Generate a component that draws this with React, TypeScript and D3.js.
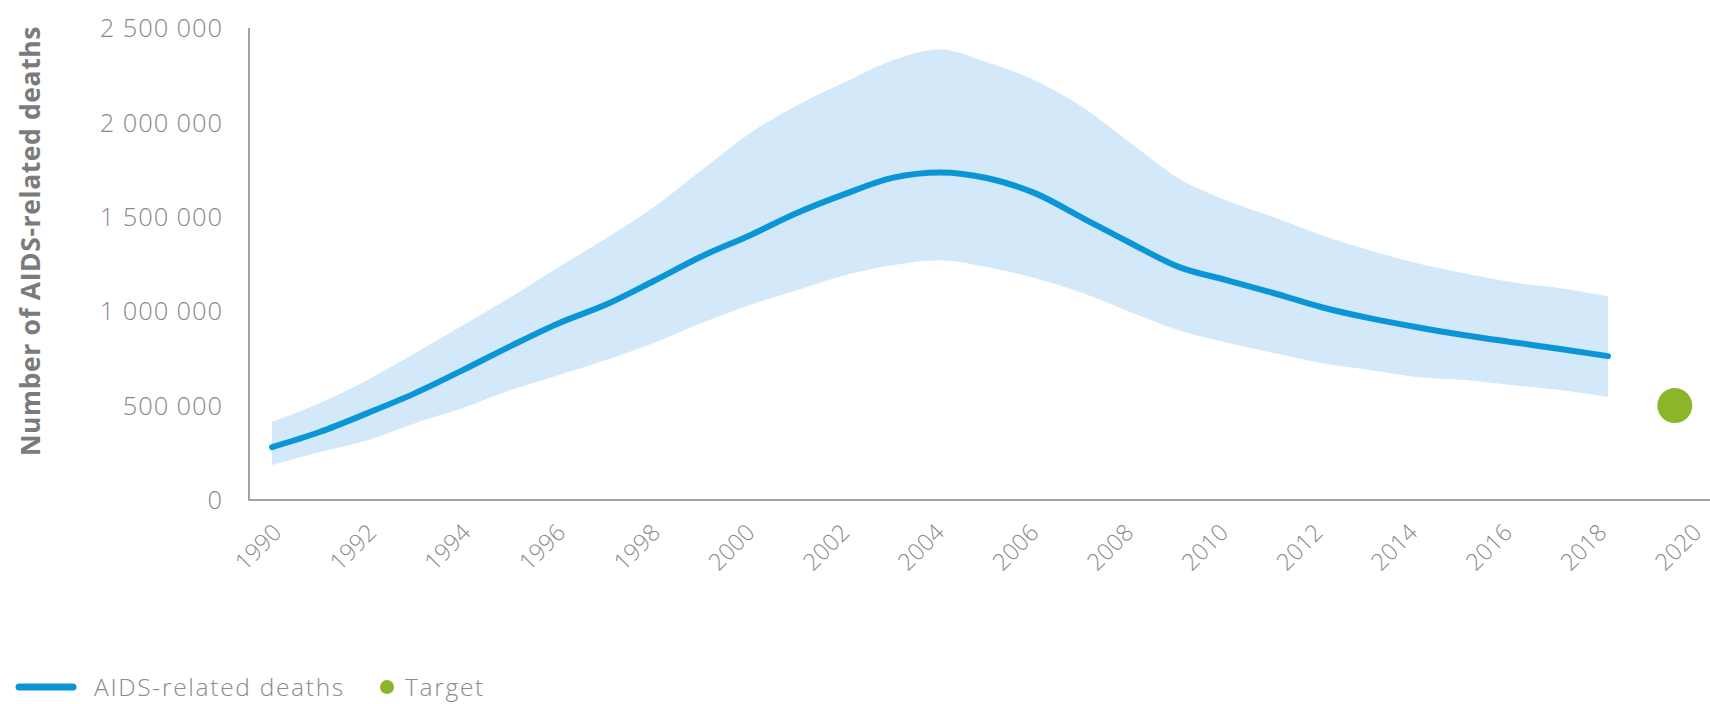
import React, { useRef, useEffect } from 'react';
import * as d3 from 'd3';

// ── Data ──────────────────────────────────────────────────────────────────────
const YEARS = [
  1990, 1991, 1992, 1993, 1994, 1995, 1996, 1997, 1998, 1999,
  2000, 2001, 2002, 2003, 2004, 2005, 2006, 2007, 2008, 2009,
  2010, 2011, 2012, 2013, 2014, 2015, 2016, 2017, 2018,
];

const DEATHS = [
  280000, 360000, 460000, 566000, 688000, 815000, 935000, 1035000, 1160000, 1290000,
  1400000, 1520000, 1620000, 1706000, 1735000, 1704000, 1624000, 1492000, 1360000, 1235000,
  1165000, 1095000, 1021000, 963000, 915000, 873000, 836000, 800000, 762000,
];

const DEATHS_UPPER = [
  415000, 513000, 635000, 778000, 926000, 1074000, 1233000, 1386000, 1550000, 1746000,
  1940000, 2090000, 2212000, 2328000, 2386000, 2317000, 2222000, 2079000, 1889000, 1704000,
  1587000, 1497000, 1402000, 1323000, 1254000, 1201000, 1153000, 1122000, 1079000,
];

const DEATHS_LOWER = [
  185000, 254000, 317000, 407000, 487000, 582000, 661000, 741000, 831000, 937000,
  1032000, 1111000, 1190000, 1243000, 1270000, 1233000, 1175000, 1095000, 995000, 899000,
  834000, 778000, 725000, 688000, 651000, 635000, 608000, 582000, 545000,
];

const TARGET_YEAR = 2019.4;
const TARGET_VALUE = 500000;

const X_TICKS = [1990, 1992, 1994, 1996, 1998, 2000, 2002, 2004, 2006, 2008, 2010, 2012, 2014, 2016, 2018, 2020];
const Y_TICKS = [0, 500000, 1000000, 1500000, 2000000, 2500000];

const Y_TITLE = 'Number of AIDS-related deaths';
const LEGEND_LINE = 'AIDS-related deaths';
const LEGEND_TARGET = 'Target';

// ── Styling ───────────────────────────────────────────────────────────────────
const W = 1710;
const H = 704;
const LINE_COLOR = '#0a96d6';
const BAND_COLOR = '#d3e9f9';
const TARGET_COLOR = '#8cb62a';
const AXIS_COLOR = '#a3a3a3';
const TEXT_COLOR = '#8a8a8a';
const FONT = '"Open Sans", Lato, sans-serif';

const fmt = d3.formatLocale({ decimal: '.', thousands: ' ', grouping: [3], currency: ['', ''] }).format(',d');

export default function App() {
  const svgRef = useRef<SVGSVGElement>(null);

  useEffect(() => {
    if (!svgRef.current) return;
    const svg = d3.select(svgRef.current);
    svg.selectAll('*').remove();

    // ── Scales ──────────────────────────────────────────────────────────────
    const x = d3.scaleLinear().domain([1990, 2018]).range([272, 1608]);
    // tick labels sit on a slightly tighter grid than the data in the original
    const xLabel = d3.scaleLinear().domain([1990, 2020]).range([283, 1703]);
    const y = d3.scaleLinear().domain([0, 2500000]).range([500, 28]);

    const rows = YEARS.map((yr, i) => ({ yr, v: DEATHS[i], hi: DEATHS_UPPER[i], lo: DEATHS_LOWER[i] }));

    // ── Uncertainty band ────────────────────────────────────────────────────
    const area = d3.area<typeof rows[number]>()
      .x(d => x(d.yr)).y0(d => y(d.lo)).y1(d => y(d.hi))
      .curve(d3.curveMonotoneX);
    svg.append('path').attr('d', area(rows)!).attr('fill', BAND_COLOR);

    // ── Main line ───────────────────────────────────────────────────────────
    const line = d3.line<typeof rows[number]>()
      .x(d => x(d.yr)).y(d => y(d.v))
      .curve(d3.curveMonotoneX);
    svg.append('path').attr('d', line(rows)!)
      .attr('fill', 'none').attr('stroke', LINE_COLOR).attr('stroke-width', 6)
      .attr('stroke-linecap', 'round').attr('stroke-linejoin', 'round');

    // ── Target ──────────────────────────────────────────────────────────────
    svg.append('circle')
      .attr('cx', x(TARGET_YEAR)).attr('cy', y(TARGET_VALUE)).attr('r', 17.5)
      .attr('fill', TARGET_COLOR);

    // ── Axes ────────────────────────────────────────────────────────────────
    svg.append('line')
      .attr('x1', 249).attr('x2', 249).attr('y1', y(2500000)).attr('y2', y(0))
      .attr('stroke', AXIS_COLOR).attr('stroke-width', 2);
    svg.append('line')
      .attr('x1', 248).attr('x2', W).attr('y1', y(0)).attr('y2', y(0))
      .attr('stroke', AXIS_COLOR).attr('stroke-width', 2);

    const yAxis = svg.append('g');
    Y_TICKS.forEach(t => {
      yAxis.append('text')
        .attr('x', 223).attr('y', y(t)).attr('dy', '0.36em')
        .attr('text-anchor', 'end').attr('fill', TEXT_COLOR)
        .attr('font-family', FONT).attr('font-weight', 300).attr('font-size', 25.5)
        .attr('letter-spacing', 0.9)
        .text(fmt(t));
    });

    const xAxis = svg.append('g');
    X_TICKS.forEach(t => {
      xAxis.append('text')
        .attr('transform', `translate(${xLabel(t)},${y(0) + 34}) rotate(-45)`)
        .attr('text-anchor', 'end').attr('fill', TEXT_COLOR)
        .attr('font-family', FONT).attr('font-weight', 300).attr('font-size', 23.5)
        .text(String(t));
    });

    // ── Y title ─────────────────────────────────────────────────────────────
    svg.append('text')
      .attr('transform', `translate(40,241) rotate(-90)`)
      .attr('text-anchor', 'middle').attr('fill', '#7b7b7b')
      .attr('font-family', FONT).attr('font-weight', 700).attr('font-size', 26.5)
      .attr('letter-spacing', 0.6)
      .text(Y_TITLE);

    // ── Legend ──────────────────────────────────────────────────────────────
    const lg = svg.append('g').attr('transform', 'translate(0,687)');
    lg.append('line').attr('x1', 19).attr('x2', 73).attr('y1', 0).attr('y2', 0)
      .attr('stroke', LINE_COLOR).attr('stroke-width', 7).attr('stroke-linecap', 'round');
    lg.append('text').attr('x', 94).attr('y', 0).attr('dy', '0.36em')
      .attr('fill', TEXT_COLOR).attr('font-family', FONT).attr('font-weight', 300).attr('font-size', 24.5)
      .attr('letter-spacing', 1.7)
      .text(LEGEND_LINE);
    lg.append('circle').attr('cx', 387).attr('cy', 0).attr('r', 7).attr('fill', TARGET_COLOR);
    lg.append('text').attr('x', 405).attr('y', 0).attr('dy', '0.36em')
      .attr('fill', TEXT_COLOR).attr('font-family', FONT).attr('font-weight', 300).attr('font-size', 24.5)
      .attr('letter-spacing', 1.7)
      .text(LEGEND_TARGET);
  }, []);

  return (
    <div style={{ position: 'fixed', left: 0, top: 0, width: W, height: H, background: '#fff' }}>
      <svg ref={svgRef} width={W} height={H} style={{ display: 'block' }} />
    </div>
  );
}
